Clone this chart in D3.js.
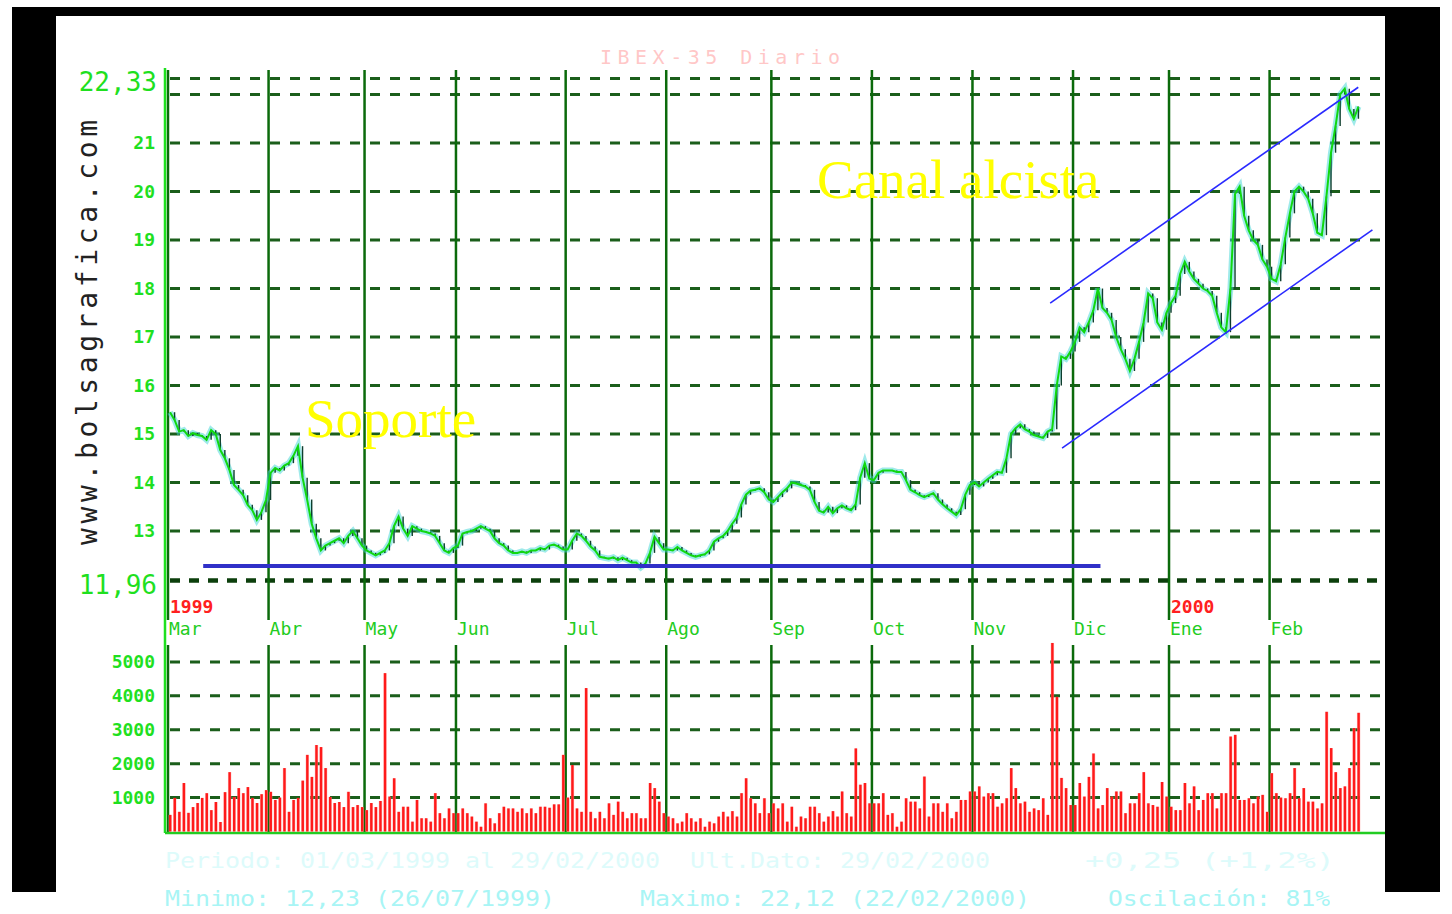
<!DOCTYPE html>
<html>
<head>
<meta charset="utf-8">
<script src="https://cdn.jsdelivr.net/npm/d3@7"></script>
<style>
  html, body { margin: 0; padding: 0; background: #fff; }
  svg { display: block; }
</style>
</head>
<body>
<svg id="chart" width="1452" height="914"></svg>
<script>
// months shown on the time axis and number of trading days in each
const months = ["Mar", "Abr", "May", "Jun", "Jul", "Ago", "Sep", "Oct", "Nov", "Dic", "Ene", "Feb"];
const monthDays = [22, 21, 20, 24, 22, 23, 22, 22, 22, 21, 22, 20];
const yearLabels = [{ month: 0, text: "1999" }, { month: 10, text: "2000" }];

const priceMin = 11.96, priceMax = 22.33;
const priceTicks = [22, 21, 20, 19, 18, 17, 16, 15, 14, 13];
const priceLabels = [21, 20, 19, 18, 17, 16, 15, 14, 13];
const volTicks = [1000, 2000, 3000, 4000, 5000];

// daily closes, one line per month
const close = [
  15.45, 15.29, 15.05, 15.08, 14.96, 15.02, 14.98, 14.96, 14.88, 15.08, 15.0, 14.67, 14.5, 14.26, 13.95, 13.85, 13.74, 13.54, 13.43, 13.23, 13.39, 13.64,
  14.2, 14.3, 14.25, 14.35, 14.4, 14.55, 14.75, 14.1, 13.65, 13.15, 12.85, 12.6, 12.7, 12.75, 12.8, 12.85, 12.75, 12.9, 13.0, 12.85, 12.7,
  12.6, 12.55, 12.5, 12.55, 12.6, 12.75, 13.1, 13.3, 13.05, 12.9, 13.1, 13.05, 13.0, 12.98, 12.95, 12.9, 12.75, 12.6, 12.55, 12.65,
  12.7, 12.95, 12.98, 13.0, 13.05, 13.1, 13.05, 13.0, 12.85, 12.75, 12.7, 12.6, 12.55, 12.55, 12.58, 12.55, 12.6, 12.6, 12.65, 12.62, 12.7, 12.72, 12.68, 12.62,
  12.62, 12.8, 12.95, 12.9, 12.8, 12.68, 12.6, 12.47, 12.45, 12.43, 12.46, 12.4, 12.45, 12.4, 12.35, 12.35, 12.25, 12.33, 12.55, 12.88, 12.75, 12.62,
  12.62, 12.6, 12.67, 12.6, 12.55, 12.5, 12.47, 12.5, 12.52, 12.6, 12.78, 12.85, 12.9, 13.0, 13.15, 13.28, 13.55, 13.75, 13.83, 13.85, 13.88, 13.8, 13.65,
  13.6, 13.7, 13.8, 13.88, 14.0, 13.98, 13.95, 13.92, 13.85, 13.6, 13.42, 13.38, 13.5, 13.37, 13.47, 13.53, 13.47, 13.43, 13.55, 14.1, 14.4, 14.08,
  14.05, 14.2, 14.25, 14.25, 14.25, 14.22, 14.22, 14.05, 13.85, 13.8, 13.74, 13.7, 13.74, 13.78, 13.65, 13.55, 13.47, 13.4, 13.33, 13.45, 13.75, 13.95,
  14.0, 13.92, 14.0, 14.08, 14.15, 14.22, 14.2, 14.5, 15.0, 15.12, 15.2, 15.1, 15.05, 14.98, 14.95, 14.92, 15.05, 15.1, 16.0, 16.6, 16.55, 16.7,
  16.9, 17.2, 17.1, 17.3, 17.55, 18.0, 17.6, 17.5, 17.35, 17.0, 16.75, 16.55, 16.3, 16.55, 16.9, 17.3, 17.9, 17.8, 17.3, 17.15, 17.5,
  17.7, 17.85, 18.3, 18.55, 18.35, 18.2, 18.1, 18.0, 17.95, 17.85, 17.5, 17.2, 17.1, 18.0, 19.95, 20.1, 19.5, 19.2, 19.0, 18.9, 18.6, 18.45,
  18.2, 18.15, 18.5, 19.05, 19.55, 20.0, 20.1, 20.0, 19.85, 19.55, 19.15, 19.1, 19.9, 20.8, 21.35, 22.0, 22.12, 21.7, 21.5, 21.75
];

// daily volume, one line per month
const volume = [
  490, 990, 580, 1430, 550, 720, 840, 990, 1130, 630, 870, 280, 1160, 1750, 1020, 1280, 1130, 1310, 990, 840, 1100, 1220,
  1170, 930, 1000, 1870, 580, 930, 990, 1500, 2260, 1610, 2550, 2490, 1870, 1020, 840, 870, 720, 1170, 720, 780, 720,
  630, 840, 720, 900, 4670, 1030, 1570, 580, 730, 730, 290, 930, 390, 390, 290, 1130, 540, 390, 680, 540,
  540, 680, 540, 440, 290, 140, 830, 390, 240, 540, 730, 680, 680, 580, 680, 540, 680, 540, 730, 730, 700, 800, 800, 2260,
  1000, 1960, 680, 580, 4230, 580, 390, 580, 390, 830, 490, 880, 580, 390, 540, 540, 390, 390, 1430, 1280, 880, 540,
  440, 390, 240, 290, 540, 390, 290, 390, 140, 290, 240, 440, 580, 440, 600, 440, 1130, 1570, 980, 830, 540, 980, 540,
  830, 680, 830, 290, 730, 140, 440, 390, 730, 730, 540, 290, 440, 600, 440, 1180, 540, 440, 2450, 1380, 1430, 830,
  830, 830, 1130, 490, 540, 140, 290, 980, 880, 880, 680, 1620, 440, 830, 830, 580, 830, 390, 580, 930, 930, 1180,
  1180, 1330, 1030, 1130, 1130, 730, 830, 980, 1870, 1280, 830, 880, 580, 680, 630, 980, 490, 5560, 3970, 1580, 1280, 780,
  780, 1430, 1030, 1610, 2300, 680, 780, 1280, 1030, 1180, 1180, 540, 830, 830, 1130, 1750, 830, 780, 730, 1460, 1030,
  730, 630, 630, 1430, 830, 1330, 630, 930, 1130, 1130, 680, 1130, 1130, 2800, 2850, 930, 930, 980, 830, 1030, 1080, 580,
  1720, 1130, 1000, 980, 1130, 1870, 980, 1280, 880, 880, 680, 830, 3530, 2460, 1750, 1280, 1330, 1870, 3050, 3500
];

// drawn annotations (day index, price)
const supportLine = [[7.7, 12.28], [204, 12.28]];
const channelUpper = [[193, 17.70], [260.4, 22.15]];
const channelLower = [[195.6, 14.71], [263.5, 19.21]];

const svg = d3.select("#chart");
const green = "#1fe01f", gridDark = "#1b5e1b";
const fmt = d3.formatLocale({ decimal: ",", thousands: ".", grouping: [3], currency: ["", ""] }).format(".2f");

// frame
svg.append("rect").attr("x", 12).attr("y", 7).attr("width", 1428).attr("height", 885).attr("fill", "#000");
svg.append("rect").attr("x", 56).attr("y", 16).attr("width", 1329).attr("height", 898).attr("fill", "#fff");

const nDays = d3.sum(monthDays);
const monthStart = [0, ...d3.cumsum(monthDays)].slice(0, months.length);

const x = d3.scaleLinear().domain([0, nDays]).range([168, 1361]);
const yP = d3.scaleLinear().domain([priceMin, priceMax]).range([581.5, 78.5]);
const yV = d3.scaleLinear().domain([0, 5500]).range([831.5, 645]);

const plotRight = 1382;

// horizontal dashed grid, price panel
svg.append("g").selectAll("line")
  .data(priceTicks.concat([priceMax]))
  .join("line")
  .attr("x1", 170).attr("x2", plotRight)
  .attr("y1", d => yP(d)).attr("y2", d => yP(d))
  .attr("stroke", gridDark).attr("stroke-width", 3)
  .attr("stroke-dasharray", "10,10");
svg.append("line")
  .attr("x1", 170).attr("x2", plotRight)
  .attr("y1", yP(priceMin) - 1).attr("y2", yP(priceMin) - 1)
  .attr("stroke", "#0c3f0c").attr("stroke-width", 4.5)
  .attr("stroke-dasharray", "10,9");

// horizontal dashed grid, volume panel
svg.append("g").selectAll("line")
  .data(volTicks)
  .join("line")
  .attr("x1", 170).attr("x2", plotRight)
  .attr("y1", d => yV(d)).attr("y2", d => yV(d))
  .attr("stroke", gridDark).attr("stroke-width", 3)
  .attr("stroke-dasharray", "10,10");

// month separators
const mg = svg.append("g");
mg.selectAll(".mp").data(monthStart).join("line")
  .attr("x1", d => x(d)).attr("x2", d => x(d))
  .attr("y1", 70).attr("y2", 620)
  .attr("stroke", "#0b6a0b").attr("stroke-width", 2.5);
mg.selectAll(".mv").data(monthStart).join("line")
  .attr("x1", d => x(d)).attr("x2", d => x(d))
  .attr("y1", 645).attr("y2", 833)
  .attr("stroke", "#0b6a0b").attr("stroke-width", 2.5);

// y axis line
svg.append("line").attr("x1", 165).attr("x2", 165).attr("y1", 68).attr("y2", 833)
  .attr("stroke", green).attr("stroke-width", 2.5);
// volume baseline
svg.append("line").attr("x1", 165).attr("x2", 1385).attr("y1", 833).attr("y2", 833)
  .attr("stroke", "#22cc22").attr("stroke-width", 2.5);

// price axis labels
const axP = svg.append("g").attr("transform", "translate(166,0)")
  .call(d3.axisLeft(yP).tickValues(priceLabels).tickFormat(d3.format("d")).tickSize(0).tickPadding(11));
axP.select(".domain").remove();
axP.selectAll("text").attr("fill", green).attr("font-family", "DejaVu Sans Mono, monospace")
  .attr("font-weight", "bold").attr("font-size", 18);

const axPx = svg.append("g").attr("transform", "translate(166,0)")
  .call(d3.axisLeft(yP).tickValues([priceMin, priceMax]).tickFormat(fmt).tickSize(0).tickPadding(9));
axPx.select(".domain").remove();
axPx.selectAll("text").attr("fill", green).attr("font-family", "DejaVu Sans Mono, monospace")
  .attr("font-size", 26).attr("dy", "0.45em");

// volume axis labels
const axV = svg.append("g").attr("transform", "translate(166,0)")
  .call(d3.axisLeft(yV).tickValues(volTicks).tickFormat(d3.format("d")).tickSize(0).tickPadding(11));
axV.select(".domain").remove();
axV.selectAll("text").attr("fill", green).attr("font-family", "DejaVu Sans Mono, monospace")
  .attr("font-weight", "bold").attr("font-size", 18);

// month and year labels
svg.append("g").selectAll("text").data(months).join("text")
  .attr("x", (d, i) => x(monthStart[i]) + 1).attr("y", 635)
  .attr("fill", "#22cc22").attr("font-family", "DejaVu Sans Mono, monospace")
  .attr("font-size", 18).text(d => d);
svg.append("g").selectAll("text").data(yearLabels).join("text")
  .attr("x", d => x(monthStart[d.month]) + 2).attr("y", 613)
  .attr("fill", "#ff2020").attr("font-family", "DejaVu Sans Mono, monospace")
  .attr("font-weight", "bold").attr("font-size", 18).text(d => d.text);

// volume bars
const vb = svg.append("g");
vb.selectAll(".halo").data(volume).join("rect")
  .attr("x", (d, i) => x(i) + 0.5).attr("width", 3.4)
  .attr("y", d => yV(d)).attr("height", d => yV(0) - yV(d))
  .attr("fill", "#ff9a9a").attr("opacity", 0.6);
vb.selectAll(".bar").data(volume).join("rect")
  .attr("x", (d, i) => x(i) + 1).attr("width", 2.4)
  .attr("y", d => yV(d)).attr("height", d => yV(0) - yV(d))
  .attr("fill", "#ff1a1a");

// price line with daily move ticks
const line = d3.line().x((d, i) => x(i) + 2).y(d => yP(d));
svg.append("path").datum(close).attr("d", line)
  .attr("fill", "none").attr("stroke", "#3fd6d6").attr("stroke-width", 6).attr("opacity", 0.5);
svg.append("g").selectAll("line").data(close.slice(1)).join("line")
  .attr("x1", (d, i) => x(i + 1) + 2).attr("x2", (d, i) => x(i + 1) + 2)
  .attr("y1", (d, i) => yP(close[i])).attr("y2", d => yP(d))
  .attr("stroke", "#0e3e2e").attr("stroke-width", 1.4);
svg.append("path").datum(close).attr("d", line)
  .attr("fill", "none").attr("stroke", "#10d810").attr("stroke-width", 2);

// support and channel
const lineXY = d3.line().x(d => x(d[0])).y(d => yP(d[1]));
svg.append("path").datum(supportLine).attr("d", lineXY)
  .attr("stroke", "#3030c8").attr("stroke-width", 4).attr("fill", "none");
[channelUpper, channelLower].forEach(c => {
  svg.append("path").datum(c).attr("d", lineXY)
    .attr("stroke", "#2a2aff").attr("stroke-width", 1.6).attr("fill", "none");
});

// annotations
svg.append("text").attr("x", 305).attr("y", 437)
  .attr("font-family", "Liberation Serif, serif").attr("font-size", 55)
  .attr("fill", "#ffff00").text("Soporte");
svg.append("text").attr("x", 817).attr("y", 198)
  .attr("font-family", "Liberation Serif, serif").attr("font-size", 55)
  .attr("fill", "#ffff00").text("Canal alcista");

// vertical site name
svg.append("text")
  .attr("transform", "translate(97,545) rotate(-90)")
  .attr("font-family", "DejaVu Sans Mono, monospace").attr("font-size", 28)
  .attr("fill", "#222").attr("textLength", 425).attr("lengthAdjust", "spacing")
  .text("www.bolsagrafica.com");

// faint title
svg.append("text").attr("x", 600).attr("y", 64)
  .attr("font-family", "DejaVu Sans Mono, monospace").attr("font-size", 20)
  .attr("fill", "#ff6060").attr("opacity", 0.35).attr("textLength", 240).attr("lengthAdjust", "spacing")
  .text("IBEX-35    Diario");

// footer
const foot = svg.append("g").attr("font-family", "DejaVu Sans Mono, monospace")
  .attr("font-size", 22);
const footRows = [
  { x: 165, y: 868, w: 495, t: "Periodo: 01/03/1999 al 29/02/2000", o: 0.35 },
  { x: 690, y: 868, w: 300, t: "Ult.Dato: 29/02/2000", o: 0.35 },
  { x: 1085, y: 868, w: 250, t: "+0,25    (+1,2%)", o: 0.35 },
  { x: 165, y: 906, w: 390, t: "Minimo: 12,23 (26/07/1999)", o: 0.9 },
  { x: 640, y: 906, w: 390, t: "Maximo: 22,12 (22/02/2000)", o: 0.9 },
  { x: 1108, y: 906, w: 222, t: "Oscilación: 81%", o: 0.9 }
];
foot.selectAll("text").data(footRows).join("text")
  .attr("x", d => d.x).attr("y", d => d.y)
  .attr("textLength", d => d.w).attr("lengthAdjust", "spacingAndGlyphs")
  .attr("fill", "#9ff5f5").attr("opacity", d => d.o)
  .text(d => d.t);
</script>
</body>
</html>
